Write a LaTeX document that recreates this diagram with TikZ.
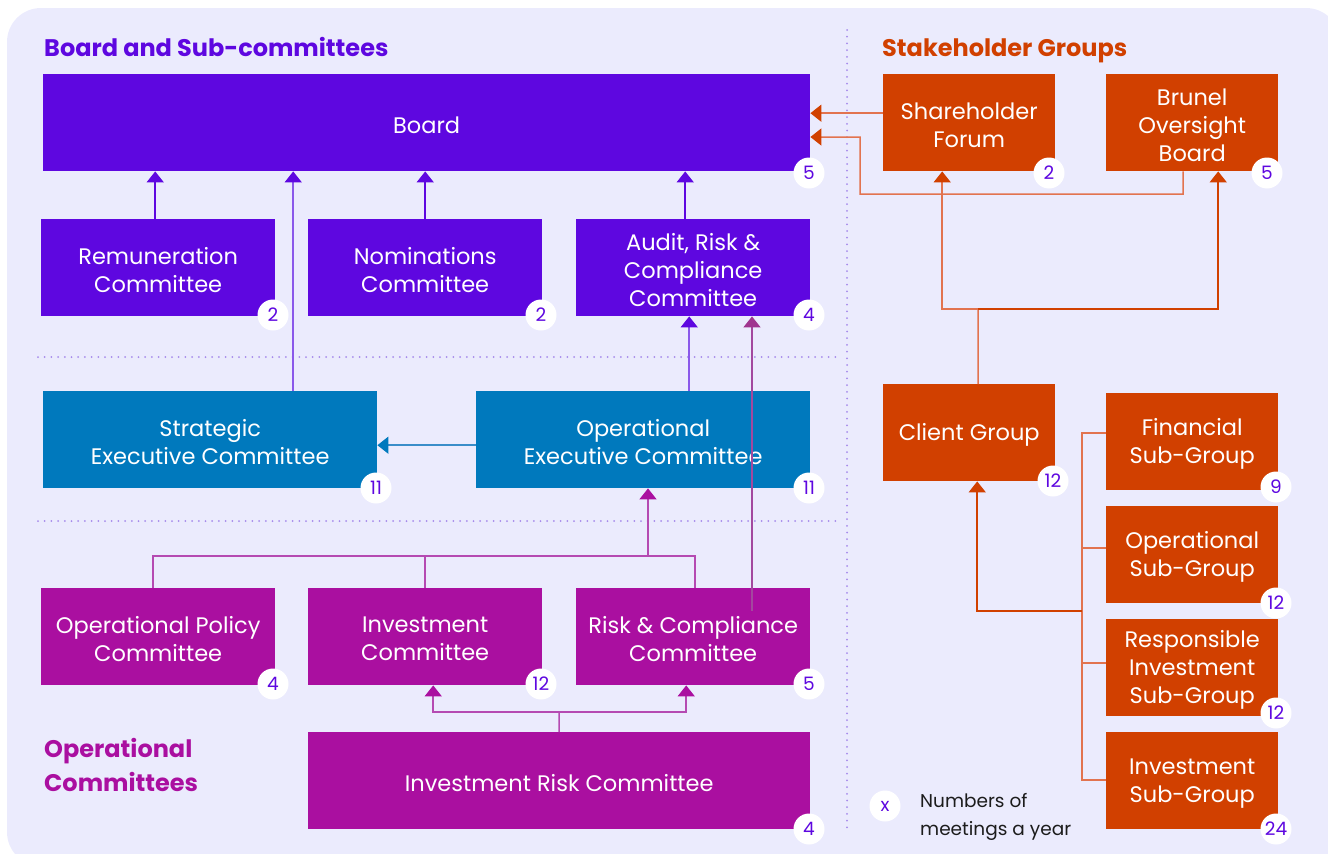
\documentclass[tikz,border=0pt]{standalone}
\usepackage{fontspec}
\setmainfont{Poppins}
\usetikzlibrary{arrows.meta}
\definecolor{bgc}{HTML}{EBEBFD}
\definecolor{pc}{HTML}{5E07E0}
\definecolor{pcl}{HTML}{8A58EA}
\definecolor{bc}{HTML}{0079BD}
\definecolor{bcl}{HTML}{3A8DC9}
\definecolor{mc}{HTML}{AA0FA0}
\definecolor{mcl}{HTML}{B54AB2}
\definecolor{rcl}{HTML}{A3489E}
\definecolor{rch}{HTML}{A0358F}
\definecolor{oc}{HTML}{D14000}
\definecolor{ocl}{HTML}{E2734F}
\definecolor{dotc}{HTML}{A68AEB}
\definecolor{txc}{HTML}{1C1C1C}
\newcommand{\boxfont}{\fontsize{22.5}{28}\selectfont}
\tikzset{
  box/.style={fill=#1, inner sep=0pt, anchor=north west, minimum height=97pt},
  btext/.style={text=white, align=center, font=\boxfont, inner sep=0pt, yshift=-2.5pt},
  badge/.style={circle, fill=white, minimum size=31pt, inner sep=0pt, text=pc, font=\fontsize{18.5}{18}\selectfont},
  cn/.style 2 args={line width=1.5pt, draw=#1, -{Triangle[length=11pt,width=17pt,color=#2]}},
  ln/.style={line width=1.5pt, draw=#1},
  dotline/.style={draw=dotc, line width=2pt, dash pattern=on 0pt off 6.7pt, line cap=round},
  ttl/.style={anchor=base west, inner sep=0pt, font=\fontsize{24}{34}\selectfont\bfseries, text=#1, align=left}
}
\newcommand{\bx}[6]{\node[box=#5, minimum width=#4pt, label={[btext]center:{#6}}] (#1) at (#2,#3) {};}
\begin{document}
\begin{tikzpicture}[x=1pt,y=-1pt]
\useasboundingbox (0,0) rectangle (1328,854);
\begin{scope}
\clip (0,0) rectangle (1328,854);
\fill[bgc, rounded corners=34pt] (7,8) rectangle (1340,866);
\end{scope}
% dotted separators
\draw[dotline] (847,30) -- (847,832);
\draw[dotline] (38,357) -- (838,357);
\draw[dotline] (38,521) -- (838,521);
% titles
\node[ttl=pc] (t1) at (44,56) {Board and Sub-committees};
\node[ttl=oc] (t2) at (882,56) {Stakeholder Groups};
\node[ttl=mc] (t3) at (44,791) {Operational\\Committees};
% boxes
\bx{board}{43}{74}{767}{pc}{Board}
\bx{rem}{41}{219}{234}{pc}{Remuneration\\Committee}
\bx{nom}{308}{219}{234}{pc}{Nominations\\Committee}
\bx{aud}{576}{219}{234}{pc}{Audit, Risk \&\\Compliance\\Committee}
\bx{strat}{43}{391}{334}{bc}{Strategic\\Executive Committee}
\bx{opex}{476}{391}{334}{bc}{Operational\\Executive Committee}
\bx{opol}{41}{588}{234}{mc}{Operational Policy\\Committee}
\bx{inv}{308}{588}{234}{mc}{Investment\\Committee}
\bx{rc}{576}{588}{234}{mc}{Risk \& Compliance\\Committee}
\bx{irc}{308}{732}{502}{mc}{Investment Risk Committee}
\bx{shf}{883}{74}{172}{oc}{Shareholder\\Forum}
\bx{bob}{1106}{74}{172}{oc}{Brunel\\Oversight\\Board}
\bx{cg}{883}{384}{172}{oc}{Client Group}
\bx{fsg}{1106}{393}{172}{oc}{Financial\\Sub-Group}
\bx{osg}{1106}{506}{172}{oc}{Operational\\Sub-Group}
\bx{risg}{1106}{619}{172}{oc}{Responsible\\Investment\\Sub-Group}
\bx{isg}{1106}{732}{172}{oc}{Investment\\Sub-Group}
% connectors: board section
\draw[cn={pc}{pc}] ([xshift=-3pt]rem.north) -- ([xshift=-3pt]rem.north |- board.south);
\draw[cn={pc}{pc}] (nom.north) -- (nom.north |- board.south);
\draw[cn={pc}{pc}] ([xshift=-8pt]aud.north) -- ([xshift=-8pt]aud.north |- board.south);
\draw[cn={pcl}{pc}] ([xshift=83pt]strat.north) -- ([xshift=83pt]strat.north |- board.south);
\draw[cn={pcl}{pc}] ([xshift=46pt]opex.north) -- ([xshift=46pt]opex.north |- aud.south);
\draw[cn={bcl}{bc}] ([yshift=-5.5pt]opex.west) -- ([yshift=-5.5pt]opex.west -| strat.east);
\coordinate (rcs) at (752,611);
\draw[cn={rcl}{rch}] (rcs) -- (rcs |- aud.south);
% operational committees
\coordinate (j1) at (648,556);
\draw[ln=mcl] ([xshift=-5pt]opol.north) |- ([xshift=2pt]rc.north |- j1) -- ([xshift=2pt]rc.north);
\draw[ln=mcl] (inv.north) -- (inv.north |- j1);
\draw[cn={mcl}{mc}] (j1) -- (j1 |- opex.south);
\coordinate (j2) at (559,712);
\draw[ln=mcl] (irc.north) -- (j2);
\draw[cn={mcl}{mc}] (j2) -| ([xshift=8pt]inv.south);
\draw[cn={mcl}{mc}] (j2) -| ([xshift=-7pt]rc.south);
% stakeholder
\draw[cn={ocl}{oc}] ([yshift=9.5pt]shf.west) -- ([yshift=9.5pt]shf.west -| board.east);
\coordinate (b1) at (1183,194);
\coordinate (b2) at (860,194);
\coordinate (b3) at (860,137);
\draw[cn={ocl}{oc}] ([xshift=-9pt]bob.south) -- (b1) -- (b2) -- (b3) -- (b3 -| board.east);
\coordinate (j3) at (978,309);
\draw[ln=ocl] ([xshift=9pt]cg.north) -- (j3);
\draw[cn={ocl}{oc}] (j3) -| ([xshift=-27pt]shf.south);
\draw[cn={oc}{oc}] (j3) -| ([xshift=26pt]bob.south);
\coordinate (v1) at (1082,433);
\coordinate (v2) at (1082,780);
\coordinate (v3) at (1082,611);
\draw[ln=ocl] (v1 -| fsg.west) -- (v1) -- (v2) -- (v2 -| isg.west);
\draw[ln=ocl] (1082,548) -- (1082,548 -| osg.west);
\draw[ln=ocl] (1082,663) -- (1082,663 -| risg.west);
\draw[cn={oc}{oc}] (v3) -| ([xshift=8pt]cg.south);
% badges
\node[badge] (bboard) at (809,173) {5};
\node[badge] (brem) at (273,315) {2};
\node[badge] (bnom) at (541,315) {2};
\node[badge] (baud) at (809,315) {4};
\node[badge] (bstrat) at (376,488) {11};
\node[badge] (bopex) at (809,488) {11};
\node[badge] (bopol) at (273,684) {4};
\node[badge] (binv) at (541,684) {12};
\node[badge] (brc) at (809,684) {5};
\node[badge] (birc) at (809,829) {4};
\node[badge] (bshf) at (1049,173) {2};
\node[badge] (bbob) at (1267,173) {5};
\node[badge] (bcg) at (1053,481) {12};
\node[badge] (bfsg) at (1276,487) {9};
\node[badge] (bosg) at (1276,603) {12};
\node[badge] (brisg) at (1276,713) {12};
\node[badge] (bisg) at (1276,829) {24};
% legend
\node[badge] (leg) at (885,806) {x};
\node[anchor=west, inner sep=0pt, text=txc, align=left, font=\fontsize{18.5}{28}\selectfont] (legt) at (920,817) {Numbers of\\meetings a year};
\end{tikzpicture}
\end{document}
